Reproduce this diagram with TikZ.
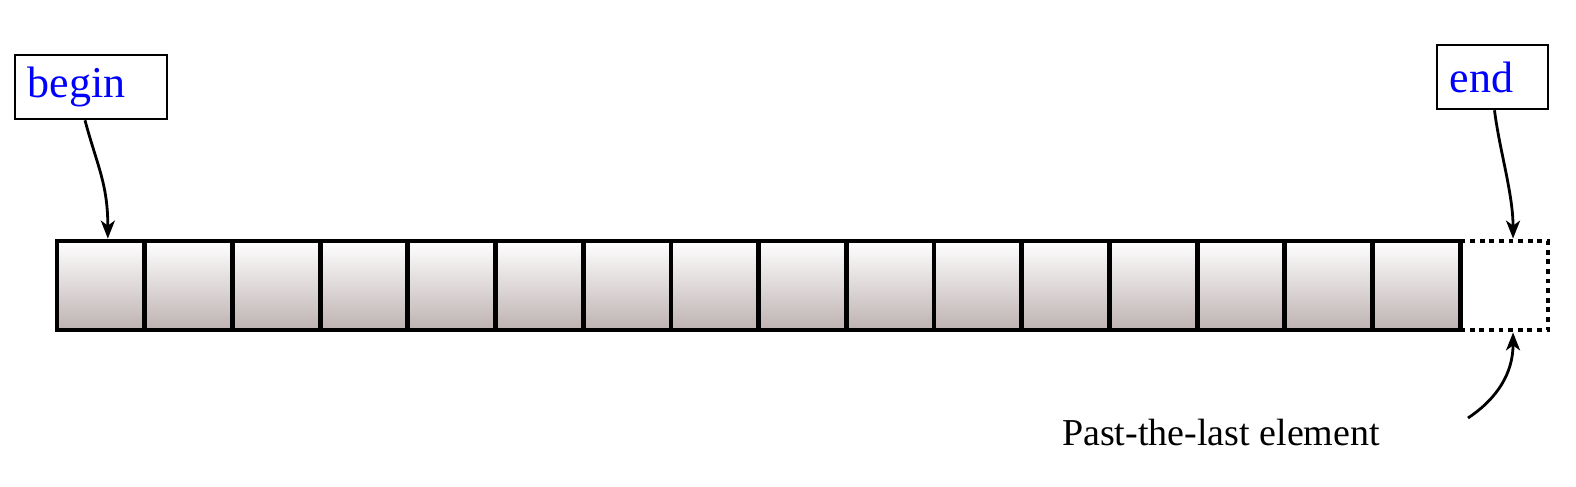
\documentclass[tikz,border=0pt]{standalone}
\usepackage{fontspec}
\setmainfont{Liberation Serif}
\usetikzlibrary{arrows.meta}
\definecolor{cellbot}{RGB}{190,178,178}
\definecolor{ptrblue}{RGB}{0,0,255}
\tikzset{
  cell/.style={draw=black, line width=2.4pt, minimum width=43.85pt, minimum height=44.5pt,
    inner sep=0pt, top color=white, bottom color=cellbot},
  ghost/.style={draw=black, line width=2.4pt, dash pattern=on 2.4pt off 2.4pt,
    minimum width=43.85pt, minimum height=44.5pt, inner sep=0pt},
  ptrbox/.style={draw=black, line width=1.3pt, fill=white, minimum height=32pt,
    inner xsep=6.25pt, inner ysep=0pt, align=left, text=ptrblue,
    font=\fontsize{22}{26}\selectfont},
  ptr/.style={line width=1.4pt, -{Stealth[length=9pt,width=7pt,inset=2.5pt]}},
  lbl/.style={font=\fontsize{19}{23}\selectfont, inner sep=0pt}
}
\begin{document}
\begin{tikzpicture}[x=0.5pt,y=-0.5pt]
\useasboundingbox (0,0) rectangle (1576,487);
\foreach \i in {1,...,16}{
  \node[cell] (c\i) at ({57+87.7*(\i-0.5)},285.5) {};
}
\node[ghost] (cend) at ({57+87.7*16.5},285.5) {};
\node[ptrbox, text width=63.5pt] (b) at (91,87) {begin};
\node[ptrbox, text width=43pt] (e) at (1492.5,77) {end};
\node[lbl, anchor=base] (p) at (1221,445) {Past-the-last element};
\coordinate (ps) at (1468,418);
\draw[ptr] ([xshift=-3pt]b.south) .. controls +(12,45) and +(0,-55) .. ([xshift=3.5pt]c1.north);
\draw[ptr] ([xshift=1pt]e.south) .. controls +(5,40) and +(0,-45) .. ([xshift=4.5pt]cend.north);
\draw[ptr] (ps) .. controls +(30,-20) and +(0,40) .. ([xshift=4.5pt]cend.south);
\end{tikzpicture}
\end{document}
